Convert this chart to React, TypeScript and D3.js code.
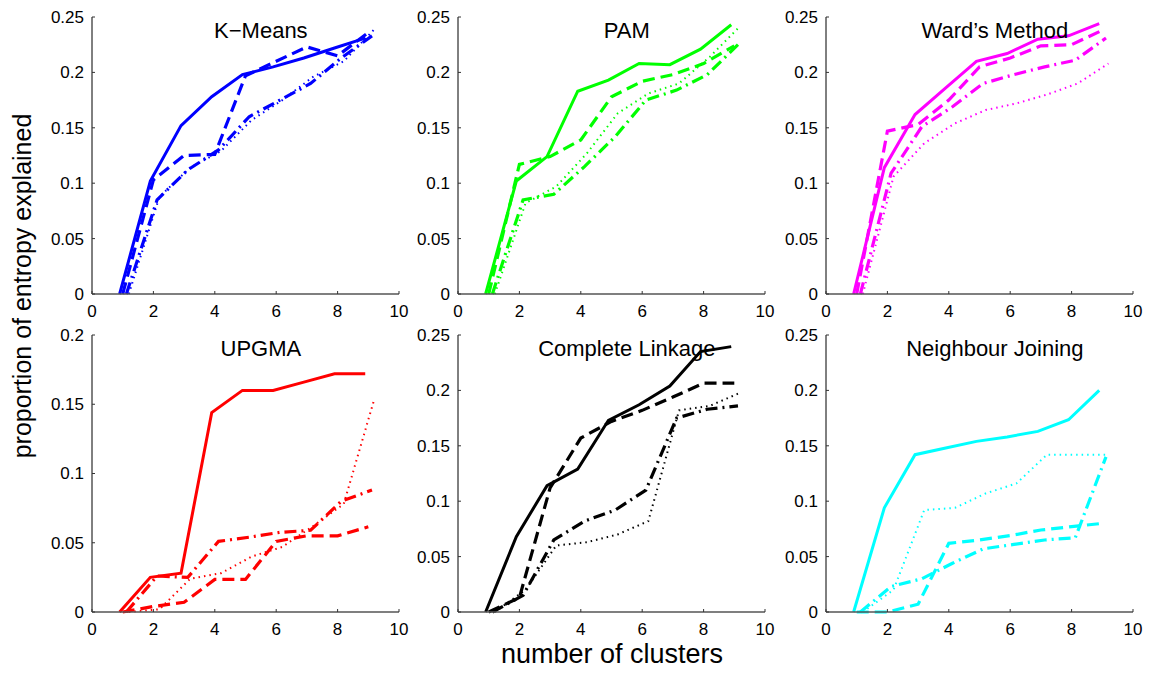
import React from 'react';
import * as d3 from 'd3';

// x positions: number of clusters
const clusters = [1, 2, 3, 4, 5, 6, 7, 8, 9];

// each panel: [solid, dashed, dash-dot, dotted]
const kMeans = [
  [0, 0.102, 0.152, 0.178, 0.198, 0.205, 0.213, 0.222, 0.231],
  [0, 0.103, 0.125, 0.126, 0.197, 0.21, 0.223, 0.215, 0.236],
  [0, 0.085, 0.112, 0.13, 0.16, 0.175, 0.19, 0.213, 0.233],
  [0, 0.088, 0.114, 0.129, 0.157, 0.175, 0.196, 0.21, 0.239],
];
const pam = [
  [0, 0.102, 0.124, 0.183, 0.193, 0.208, 0.207, 0.221, 0.243],
  [0, 0.117, 0.124, 0.139, 0.178, 0.192, 0.198, 0.208, 0.224],
  [0, 0.085, 0.09, 0.115, 0.142, 0.175, 0.184, 0.198, 0.225],
  [0, 0.082, 0.097, 0.127, 0.163, 0.181, 0.19, 0.214, 0.242],
];
const ward = [
  [0, 0.114, 0.162, 0.186, 0.21, 0.217, 0.23, 0.233, 0.244],
  [0, 0.147, 0.153, 0.175, 0.205, 0.213, 0.224, 0.225, 0.238],
  [0, 0.109, 0.151, 0.169, 0.19, 0.198, 0.205, 0.211, 0.231],
  [0, 0.106, 0.136, 0.154, 0.166, 0.172, 0.18, 0.19, 0.208],
];
const upgma = [
  [0, 0.025, 0.028, 0.144, 0.16, 0.16, 0.166, 0.172, 0.172],
  [0, 0.004, 0.007, 0.0235, 0.0235, 0.051, 0.055, 0.055, 0.0615],
  [0, 0.026, 0.025, 0.051, 0.054, 0.0575, 0.059, 0.08, 0.088],
  [0, 0.002, 0.024, 0.028, 0.04, 0.047, 0.062, 0.078, 0.154],
];
const completeLinkage = [
  [0, 0.068, 0.114, 0.129, 0.173, 0.187, 0.204, 0.235, 0.2395],
  [0, 0.013, 0.112, 0.157, 0.172, 0.182, 0.194, 0.2065, 0.2065],
  [0, 0.015, 0.065, 0.082, 0.092, 0.11, 0.175, 0.183, 0.186],
  [0, 0.02, 0.06, 0.063, 0.07, 0.082, 0.182, 0.186, 0.198],
];
const neighbourJoining = [
  [0, 0.094, 0.142, 0.148, 0.154, 0.158, 0.163, 0.1735, 0.2],
  [0, 0, 0.007, 0.062, 0.065, 0.069, 0.074, 0.077, 0.08],
  [0, 0.023, 0.03, 0.044, 0.057, 0.061, 0.065, 0.067, 0.14],
  [0, 0.02, 0.092, 0.094, 0.107, 0.116, 0.142, 0.142, 0.142],
];

const titles = ['K\u2212Means', 'PAM', 'Ward\u2019s Method', 'UPGMA', 'Complete Linkage', 'Neighbour Joining'];
const colors = ['#0000ff', '#00ff00', '#ff00ff', '#ff0000', '#000000', '#00ffff'];
const yMaxes = [0.25, 0.25, 0.25, 0.2, 0.25, 0.25];
const xTicks = [0, 2, 4, 6, 8, 10];
const panelData = [kMeans, pam, ward, upgma, completeLinkage, neighbourJoining];

const lineStyles = [
  { dx: -0.1, width: 3, dash: null },
  { dx: 0, width: 3.2, dash: '12,6' },
  { dx: 0.12, width: 3.2, dash: '12,5,2,5' },
  { dx: 0.2, width: 2, dash: '1.5,4' },
];

const W = 1150;
const H = 673;
const colLeft = [92, 458, 826];
const rowTop = [17, 335];
const pw = 307;
const ph = 277;
const font = '"Liberation Sans", Arial, Helvetica, sans-serif';

const Panel = ({ i }) => {
  const left = colLeft[i % 3];
  const top = rowTop[Math.floor(i / 3)];
  const x = d3.scaleLinear().domain([0, 10]).range([left, left + pw]);
  const y = d3.scaleLinear().domain([0, yMaxes[i]]).range([top + ph, top]);
  const yTicks = d3.range(0, yMaxes[i] + 1e-9, 0.05);
  const fmt = d3.format('~g');

  return (
    <g>
      {panelData[i].map((vals, s) => {
        const st = lineStyles[s];
        const line = d3.line<number>()
          .x((_, k) => x(clusters[k] + st.dx))
          .y(v => y(v));
        return (
          <path key={s} d={line(vals) || ''} fill="none" stroke={colors[i]}
            strokeWidth={st.width} strokeDasharray={st.dash || undefined} />
        );
      })}
      {/* axes */}
      <line x1={left} x2={left} y1={top} y2={top + ph} stroke="#000" strokeWidth={1} />
      <line x1={left} x2={left + pw} y1={top + ph} y2={top + ph} stroke="#555" strokeWidth={1.5} />
      {xTicks.map(t => (
        <g key={'x' + t}>
          <line x1={x(t)} x2={x(t)} y1={top + ph} y2={top + ph - 3} stroke="#333" />
          <text x={x(t)} y={top + ph + 23} textAnchor="middle" fontSize={17} fontFamily={font}>{t}</text>
        </g>
      ))}
      {yTicks.map(t => (
        <g key={'y' + t}>
          <line x1={left} x2={left + 3} y1={y(t)} y2={y(t)} stroke="#333" />
          <text x={left - 8} y={y(t)} dy="0.35em" textAnchor="end" fontSize={17} fontFamily={font}>{fmt(+t.toFixed(2))}</text>
        </g>
      ))}
      <text x={x(5.5)} y={top + 21} textAnchor="middle" fontSize={22} fontFamily={font}>{titles[i]}</text>
    </g>
  );
};

export default function App() {
  return (
    <svg width={W} height={H} style={{ position: 'absolute', left: 0, top: 0, background: '#fff' }}>
      <rect width={W} height={H} fill="#fff" />
      {titles.map((_, i) => <Panel key={i} i={i} />)}
      <text transform="translate(31,286) rotate(-90)" textAnchor="middle" fontSize={25} fontFamily={font}>
        proportion of entropy explained
      </text>
      <text x={612} y={663} textAnchor="middle" fontSize={27} fontFamily={font}>number of clusters</text>
    </svg>
  );
}
